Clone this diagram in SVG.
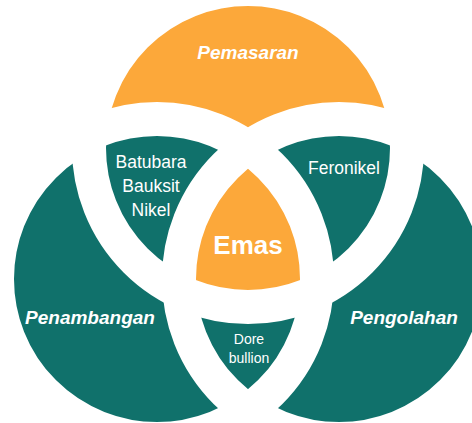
<svg xmlns="http://www.w3.org/2000/svg" width="472" height="423" viewBox="0 0 472 423">
  <style>
    .orange { fill: #FCA83A; }
    .teal { fill: #10716B; }
    .ring { fill: none; stroke: #FFFFFF; stroke-width: 34; }
    text { font-family: "Liberation Sans", Arial, sans-serif; fill: #FFFFFF; text-anchor: middle; }
    .title { font-weight: bold; font-style: italic; font-size: 19px; }
    .item { font-size: 17.5px; }
    .core { font-weight: bold; font-size: 26px; }
    .small { font-size: 14px; }
  </style>
  <defs>
    <clipPath id="clipLeft"><circle cx="157" cy="279" r="160"/></clipPath>
    <clipPath id="clipRight"><circle cx="339" cy="279" r="160"/></clipPath>
  </defs>

  <rect x="0" y="0" width="472" height="423" fill="#FFFFFF"/>

  <!-- circle fills: top circle, then the two lower circles -->
  <g id="pemasaran-fill"><circle class="orange" cx="248" cy="148" r="159"/></g>
  <g id="penambangan-fill"><circle class="teal" cx="157" cy="279" r="160"/></g>
  <g id="pengolahan-fill"><circle class="teal" cx="339" cy="279" r="160"/></g>

  <!-- centre region shared by all three circles -->
  <g id="emas-fill" clip-path="url(#clipLeft)">
    <g clip-path="url(#clipRight)">
      <circle class="orange" cx="248" cy="148" r="159"/>
    </g>
  </g>

  <!-- white bands along every circle outline -->
  <g id="outlines">
    <circle class="ring" cx="248" cy="148" r="159"/>
    <circle class="ring" cx="157" cy="279" r="160"/>
    <circle class="ring" cx="339" cy="279" r="160"/>
  </g>

  <!-- labels -->
  <g id="pemasaran"><text class="title" x="248" y="59">Pemasaran</text></g>
  <g id="penambangan"><text class="title" x="90" y="324">Penambangan</text></g>
  <g id="pengolahan"><text class="title" x="404" y="324">Pengolahan</text></g>
  <g id="batubara-bauksit-nikel">
    <text class="item" x="151" y="168">Batubara</text>
    <text class="item" x="151" y="192">Bauksit</text>
    <text class="item" x="151" y="216">Nikel</text>
  </g>
  <g id="feronikel"><text class="item" x="344" y="174">Feronikel</text></g>
  <g id="emas"><text class="core" x="248" y="254">Emas</text></g>
  <g id="dore-bullion">
    <text class="small" x="249" y="344">Dore</text>
    <text class="small" x="249" y="363">bullion</text>
  </g>
</svg>
